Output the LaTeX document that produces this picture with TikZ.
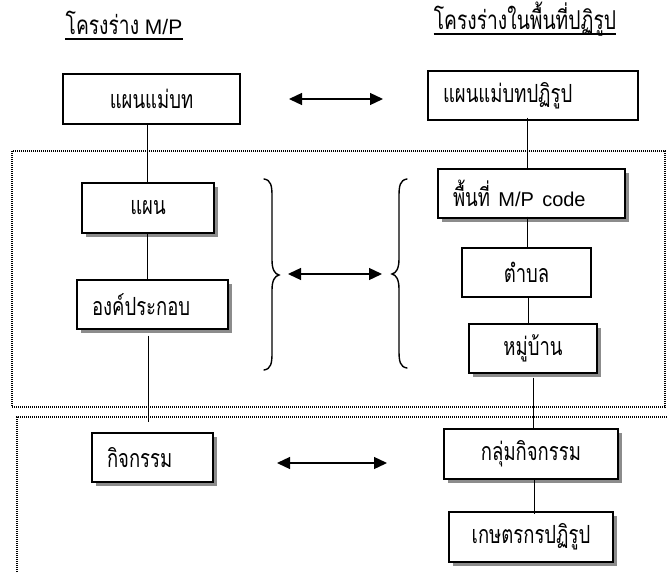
\documentclass[tikz,border=0pt]{standalone}
\usepackage{fontspec}
\newfontfamily\thai[Script=Thai,FakeStretch=0.74]{Loma}
\newfontfamily\lat{Liberation Sans}
\usetikzlibrary{arrows.meta,shadows}
\newcommand{\latin}[1]{{\lat\fontsize{20}{22}\selectfont #1}}
\tikzset{
  boxbase/.style={draw, line width=1.3pt, fill=white, inner ysep=0pt, font=\thai\fontsize{25}{28}\selectfont},
  plainbox/.style={boxbase},
  shbox/.style={boxbase, drop shadow={shadow xshift=4pt, shadow yshift=-4pt, fill=black!45, opacity=1}},
  conn/.style={line width=0.9pt},
  twoway/.style={line width=1.3pt, {Triangle[length=13pt,width=12pt]}-{Triangle[length=13pt,width=12pt]}},
  dotbox/.style={line width=1.2pt, dash pattern=on 1pt off 1pt},
  brace/.style={line width=1.4pt, line cap=round},
  ttl/.style={inner sep=0pt, font=\thai\fontsize{26}{28}\selectfont},
}
\begin{document}
\begin{tikzpicture}[x=1pt,y=-1pt]
\useasboundingbox (0,0) rectangle (668,572);
% dotted frames
\draw[dotbox] (12,151) rectangle (665,407);
\draw[dotbox] (17,572) -- (17,417) -- (668,417);
% titles
\node[ttl, anchor=base] (t1) at (124,35) {โครงร่าง{\lat\fontsize{21}{22}\selectfont{} M/P}};
\draw[line width=1.5pt] (t1.west |- 0,39) -- (t1.east |- 0,39);
\node[ttl, anchor=base] (t2) at (525,30) {โครงร่างในพื้นที่ปฏิรูป};
\draw[line width=1.5pt] (t2.west |- 0,34) -- (t2.east |- 0,34);
% boxes
\node[plainbox, minimum width=177pt, minimum height=50pt] (b1) at (151.5,99) {แผนแม่บท};
\node[plainbox, minimum width=210pt, minimum height=49pt, inner xsep=15pt, text width=180pt, align=left] (b2) at (533,95.5) {แผนแม่บทปฏิรูป};
\node[shbox, minimum width=132pt, minimum height=50pt] (plan) at (148,208) {แผน};
\node[shbox, minimum width=151pt, minimum height=49pt, inner xsep=15pt, text width=121pt, align=left] (comp) at (152.5,304.5) {องค์ประกอบ};
\node[shbox, minimum width=187pt, minimum height=49pt, inner xsep=15pt, text width=157pt, align=left] (area) at (531.5,193.5) {พื้นที่\latin{ M/P code}};
\node[plainbox, minimum width=129pt, minimum height=49pt] (tambon) at (526.5,272.5) {ตำบล};
\node[shbox, minimum width=128pt, minimum height=49pt] (village) at (533,348.5) {หมู่บ้าน};
\node[shbox, minimum width=121pt, minimum height=49pt, inner xsep=15pt, text width=91pt, align=left] (act) at (152.5,457.5) {กิจกรรม};
\node[shbox, minimum width=174pt, minimum height=50pt] (group) at (531,454) {กลุ่มกิจกรรม};
\node[shbox, minimum width=164pt, minimum height=50pt] (farmer) at (531,537) {เกษตรกรปฏิรูป};
% connectors
\draw[conn] (plan.north -| 147,0) -- (b1.south -| 147,0);
\draw[conn] (plan.south -| 147,0) -- (comp.north -| 147,0);
\coordinate (actTop) at (148,422);
\draw[conn] ([yshift=-6pt]comp.south -| 148,0) -- (actTop);
\draw[conn] ([yshift=3pt]b2.south -| 527,0) -- (area.north -| 527,0);
\draw[conn] ([yshift=2pt]area.south -| 527,0) -- (tambon.north -| 527,0);
\draw[conn] (tambon.south -| 528,0) -- (village.north -| 528,0);
\draw[conn] ([yshift=-4pt]village.south -| 533,0) -- (group.north -| 533,0);
\draw[conn] (group.south -| 534,0) -- ([yshift=-3pt]farmer.north -| 534,0);
% arrows
\coordinate (a1l) at (289,99); \coordinate (a1r) at (383,99);
\draw[twoway] (a1l) -- (a1r);
\coordinate (a2l) at (288,274); \coordinate (a2r) at (382,274);
\draw[twoway] (a2l) -- (a2r);
\coordinate (a3l) at (277,463); \coordinate (a3r) at (387,463);
\draw[twoway] (a3l) -- (a3r);
% braces
\draw[brace] (264,179) .. controls (271,180) and (272,186) .. (272,196)
  -- (272,260) .. controls (272,270) and (275,274) .. (279,275)
  .. controls (275,276) and (272,280) .. (272,290)
  -- (272,353) .. controls (272,363) and (271,369) .. (264,370);
\draw[brace] (407,179) .. controls (400,180) and (399,186) .. (399,196)
  -- (399,259) .. controls (399,269) and (396,273) .. (392,274)
  .. controls (396,275) and (399,279) .. (399,289)
  -- (399,351) .. controls (399,361) and (400,367) .. (407,368);
\end{tikzpicture}
\end{document}
